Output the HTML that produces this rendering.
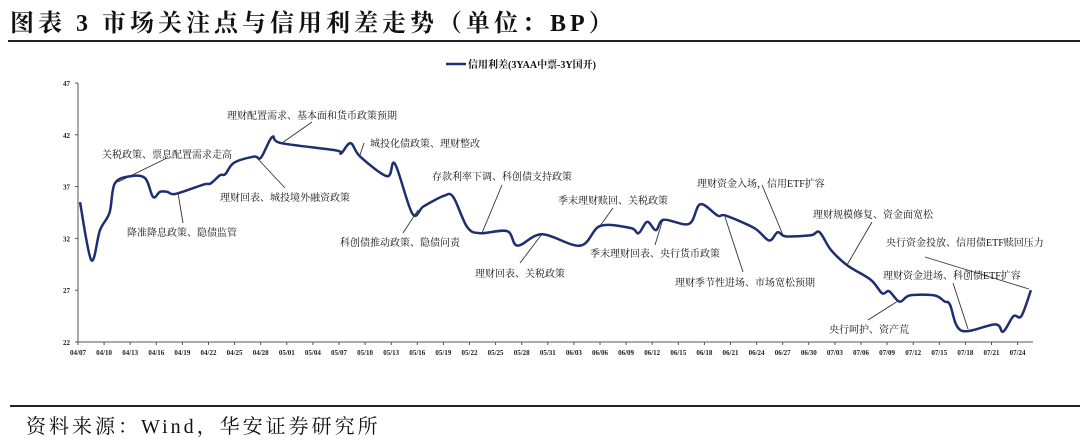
<!DOCTYPE html>
<html><head><meta charset="utf-8"><style>
body{margin:0;background:#fff;width:1080px;height:444px;overflow:hidden}
svg{display:block}
.t{font-family:"Liberation Serif","Noto Serif CJK SC",serif}
</style></head><body>
<svg id="c" width="1080" height="444">
<text class="t" x="10" y="31" font-size="24" font-weight="bold" letter-spacing="4" fill="#111">图表 3 市场关注点与信用利差走势（单位：BP）</text>
<line x1="8" y1="41" x2="1080" y2="41" stroke="#222" stroke-width="2"/>
<line x1="10" y1="406" x2="1080" y2="406" stroke="#222" stroke-width="2"/>
<text class="t" x="26" y="433" font-size="20" letter-spacing="3" fill="#111">资料来源：Wind，华安证券研究所</text>
<g>
<line x1="446" y1="64" x2="466" y2="64" stroke="#1f2f6e" stroke-width="2.5"/>
<text class="t" x="468" y="68" font-size="10" font-weight="bold" fill="#111">信用利差(3YAA中票-3Y国开)</text>
</g>
<g id="axes"></g>
<g id="ann"></g>
<path id="line" fill="none" stroke="#1f2f6e" stroke-width="2.5" stroke-linejoin="round"/>
</svg>
<script>
const xLabels=["04/07","04/10","04/13","04/16","04/19","04/22","04/25","04/28","05/01","05/04","05/07","05/10","05/13","05/16","05/19","05/22","05/25","05/28","05/31","06/03","06/06","06/09","06/12","06/15","06/18","06/21","06/24","06/27","06/30","07/03","07/06","07/09","07/12","07/15","07/18","07/21","07/24"];
const yTicks=[22,27,32,37,42,47];
const days=[0,1.3,2.3,3.4,4,5.8,7.5,8.4,9.2,10,11,14.2,15,16.1,16.7,17.7,20,20.8,22.1,23.1,29.4,30,31.1,32.2,35.3,36.2,38.2,39.5,41.8,42.9,44.5,46,49.1,50.3,53.1,57.5,59.8,63.3,64.2,65.2,66.2,67.1,70,71.3,73.3,74.2,77.5,79.2,80.2,81.1,84,85,86.3,88.2,90.9,92.2,93,94.2,95.4,98.2,99.4,100,101.3,105.2,106.1,107.3,108.2,109.3];
const spread=[35.5,29.9,32.8,34.5,37.3,38.0,37.8,36.0,36.5,36.5,36.3,37.2,37.3,38.1,38.2,39.3,39.9,39.8,41.8,41.2,40.5,40.2,41.2,39.9,38.0,39.2,34.4,35.1,36.1,36.0,33.1,32.5,32.7,31.3,32.4,31.3,33.2,33.0,32.5,33.6,32.8,33.8,33.4,35.3,34.2,34.2,33.0,31.8,32.6,32.2,32.3,32.6,30.9,29.4,28.0,26.7,26.9,25.9,26.5,26.5,25.9,25.6,23.1,23.7,23.0,24.5,24.5,27.0];
const X0=78,STEP=26.1,Y0=342,YT=83,YMIN=22,YMAX=47;
const x=d=>X0+2+d*STEP/3;
const y=v=>Y0-(v-YMIN)/(YMAX-YMIN)*(Y0-YT);
const NS="http://www.w3.org/2000/svg";
function mk(tag,attrs,parent){const e=document.createElementNS(NS,tag);for(const k in attrs)e.setAttribute(k,attrs[k]);parent.appendChild(e);return e;}
const ax=document.getElementById('axes');
let e=mk('line',{x1:X0,y1:YT,x2:X0,y2:Y0,stroke:'#555','stroke-width':1},ax);


e=mk('line',{x1:X0,y1:Y0,x2:1033,y2:Y0,stroke:'#555','stroke-width':1},ax);


yTicks.forEach(v=>{
 const t=mk('line',{x1:X0-3,y1:y(v),x2:X0,y2:y(v),stroke:'#555'},ax);
 
 
 const l=mk('text',{x:X0-8,y:y(v)+3,'font-size':7,'font-weight':'bold','text-anchor':'end',fill:'#222',class:'t'},ax);
 l.textContent=v;
 
 
});
xLabels.forEach((s,i)=>{
 const px=X0+i*STEP;
 const t=mk('line',{x1:px,y1:Y0,x2:px,y2:Y0+3,stroke:'#555'},ax);
 
 
 const l=mk('text',{x:px,y:Y0+13,'font-size':7,'font-weight':'bold','text-anchor':'middle',fill:'#222',class:'t'},ax);
 l.textContent=s;
 
 
});
const pts=days.map((d,i)=>[x(d),y(spread[i])]);
let d='M'+pts[0][0]+','+pts[0][1];
for(let i=0;i<pts.length-1;i++){
 const p0=pts[i-1]||pts[i],p1=pts[i],p2=pts[i+1],p3=pts[i+2]||p2;
 const c1=[p1[0]+(p2[0]-p0[0])/6,p1[1]+(p2[1]-p0[1])/6];
 const c2=[p2[0]-(p3[0]-p1[0])/6,p2[1]-(p3[1]-p1[1])/6];
 d+=`C${c1[0]},${c1[1]} ${c2[0]},${c2[1]} ${p2[0]},${p2[1]}`;
}
document.getElementById('line').setAttribute('d',d);
const anns=[
 ["关税政策、票息配置需求走高",102,154,167,158,118,182],
 ["理财配置需求、基本面和货币政策预期",227,115,312,122,282,143],
 ["城投化债政策、理财整改",370,143,364,143,360,155],
 ["降准降息政策、隐债监管",127,232,178,193,183,223],
 ["理财回表、城投境外融资政策",220,197,257,158,285,188],
 ["科创债推动政策、隐债问责",340,242,418,210,403,233],
 ["存款利率下调、科创债支持政策",432,176,502,185,482,233],
 ["季末理财赎回、关税政策",558,200,613,208,600,226],
 ["理财回表、关税政策",475,273,520,263,542,234],
 ["季末理财回表、央行货币政策",590,253,655,245,663,219],
 ["理财资金入场，信用ETF扩容",697,183,762,185,783,235],
 ["理财季节性进场、市场宽松预期",675,282,743,272,725,217],
 ["理财规模修复、资金面宽松",813,214,872,222,847,265],
 ["央行资金投放、信用债ETF赎回压力",886,242,925,257,1029,289],
 ["理财资金进场、科创债ETF扩容",883,275,953,283,968,329],
 ["央行呵护、资产荒",829,329,868,320,898,301]
];
const ag=document.getElementById('ann');
anns.forEach(a=>{
 const ln=mk('line',{x1:a[3],y1:a[4],x2:a[5],y2:a[6],stroke:'#333','stroke-width':0.9},ag);
 
 
 const t=mk('text',{x:a[1],y:a[2]+4,'font-size':10,fill:'#111',class:'t'},ag);
 t.textContent=a[0];
 
 
});
</script>
</body></html>
